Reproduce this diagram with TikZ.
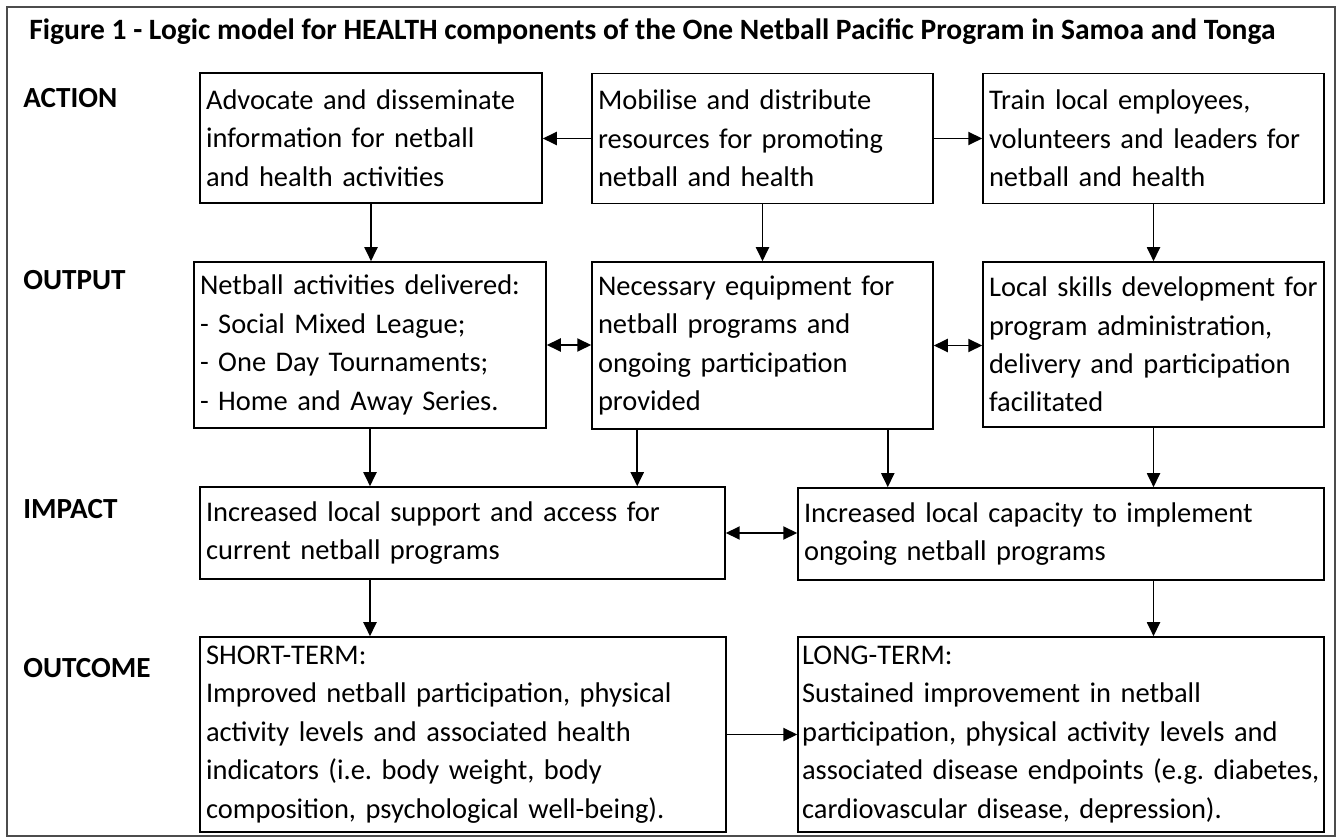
\documentclass[tikz,border=0pt]{standalone}
\usepackage{fontspec}
\setmainfont{Carlito}
\usetikzlibrary{arrows.meta}
\usetikzlibrary{calc}
\frenchspacing
\hyphenpenalty=10000

\begin{document}
\begin{tikzpicture}[x=0.02cm, y=-0.02cm, font=\fontsize{16.2}{21.9}\selectfont,
  box/.style={draw, line width=0.9pt, align=left, inner xsep=0.12cm, inner ysep=0pt},
  lab/.style={anchor=base west, inner sep=0pt, font=\fontsize{16.6}{21.9}\selectfont\bfseries},
  arr/.style={line width=1.1pt},
  >={Triangle[length=0.28cm, width=0.26cm]}]
\useasboundingbox (0,0) rectangle (1338,837);
\draw[black!70, line width=1.1pt] (7,7) rectangle (1335,836);
\node[lab, font=\fontsize{16.8}{21.9}\selectfont\bfseries] (title) at (29,40) {Figure 1 - Logic model for HEALTH components of the One Netball Pacific Program in Samoa and Tonga};
% row labels
\node[lab] (lact) at (23,108) {ACTION};
\node[lab] (lout) at (23,290) {OUTPUT};
\node[lab] (limp) at (23,518) {IMPACT};
\node[lab] (lres) at (23,677) {OUTCOME};
% action
\node[box, minimum height=2.6cm, text width=6.6cm] (adv) at (371,138) {Advocate and disseminate\\information for netball\\and health activities};
\node[box, minimum height=2.6cm, text width=6.58cm] (mob) at (762.5,138.5) {Mobilise and distribute\\resources for promoting\\netball and health};
\node[box, minimum height=2.6cm, text width=6.58cm] (train) at (1153.5,138.5) {Train local employees,\\volunteers and leaders for\\netball and health};
% output
\node[box, minimum height=3.32cm, text width=6.8cm] (act) at (370,345) {Netball activities delivered:\\- Social Mixed League;\\- One Day Tournaments;\\- Home and Away Series.};
\node[box, minimum height=3.34cm, text width=6.58cm] (equip) at (762.5,345.5) {Necessary equipment for\\netball programs and\\ongoing participation\\provided};
\node[box, minimum height=3.3cm, text width=6.58cm] (skill) at (1153.5,344.5) {Local skills development for\\program administration,\\delivery and participation\\facilitated};
% impact
\node[box, minimum height=1.84cm, text width=10.26cm] (supp) at (462.5,533) {Increased local support and access for\\current netball programs};
\node[box, minimum height=1.84cm, text width=10.28cm] (capa) at (1061,534) {Increased local capacity to implement\\ongoing netball programs};
% outcome
\node[box, minimum height=3.9cm, text width=10.28cm] (short) at (463,734.5) {SHORT-TERM:\\Improved netball participation, physical\\activity levels and associated health\\indicators (i.e. body weight, body\\composition, psychological well-being).};
\node[box, minimum height=3.9cm, text width=10.36cm, inner xsep=0.08cm] (long) at (1061,734.5) {LONG-TERM:\\Sustained improvement in netball\\participation, physical activity levels and\\\mbox{associated disease endpoints (e.g. diabetes,}\\cardiovascular disease, depression).};

\draw[arr, ->] (mob.west) -- (mob.west -| adv.east);
\draw[arr, ->] (mob.east) -- (mob.east -| train.west);
\draw[arr, ->] (adv.south) -- (adv.south |- act.north);
\draw[arr, ->] (mob.south) -- (mob.south |- equip.north);
\draw[arr, ->] (train.south) -- (train.south |- skill.north);
\draw[arr, <->] (act.east) -- (act.east -| equip.west);
\draw[arr, <->] (equip.east) -- (equip.east -| skill.west);
\coordinate (e1) at ([xshift=0.92cm]equip.south west);
\coordinate (e2) at ([xshift=-0.92cm]equip.south east);
\draw[arr, ->] (act.south) -- (act.south |- supp.north);
\draw[arr, ->] (e1) -- (e1 |- supp.north);
\draw[arr, ->] (e2) -- (e2 |- capa.north);
\draw[arr, ->] (skill.south) -- (skill.south |- capa.north);
\draw[arr, <->] (supp.east) -- (supp.east -| capa.west);
\draw[arr, ->] (supp.south -| act.south) -- (act.south |- short.north);
\draw[arr, ->] (capa.south -| skill.south) -- (skill.south |- long.north);
\draw[arr, ->] (short.east) -- (short.east -| long.west);
\end{tikzpicture}
\end{document}
